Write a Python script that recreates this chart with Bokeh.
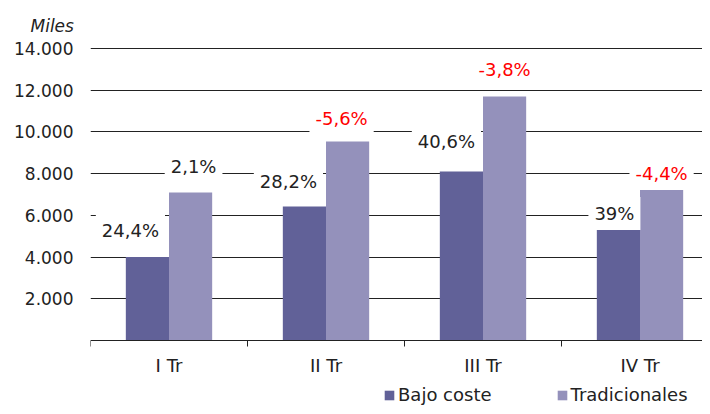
from bokeh.plotting import figure
from bokeh.models import (FixedTicker, Label, Legend, LegendItem, ColumnDataSource, Title)
from bokeh.embed import file_html
from bokeh.resources import INLINE

# ---- data ----
quarters = ["I Tr", "II Tr", "III Tr", "IV Tr"]
bajo_coste = [4000, 6430, 8100, 5470]
tradicionales = [7100, 9540, 11700, 7530]
bajo_labels = ["24,4%", "28,2%", "40,6%", "39%"]
trad_labels = ["2,1%", "-5,6%", "-3,8%", "-4,4%"]
trad_label_colors = ["#222222", "#FF0000", "#FF0000", "#FF0000"]
y_ticks = [2000, 4000, 6000, 8000, 10000, 12000, 14000]
y_tick_labels = ["2.000", "4.000", "6.000", "8.000", "10.000", "12.000", "14.000"]

# ---- style ----
C_BAJO = "#616198"
C_TRAD = "#9491BB"
FONT = "DejaVu Sans"
FS = "17px"
FS_LAB = "18px"
BAR_W = 0.275
CAT_PX = 157.0
# label pixel offsets (dx from bar centre, dy above bar top)
bajo_off = [(-17, 27), (-16, 25), (-15, 30), (-4, 13)]
trad_off = [(3, 26), (-6, 23), (0, 27), (0, 10)]

W, H = 702, 406
ML, MR, MT, MB = 90, 0, 47, 0
Y_TOP_PX, Y0_PX = 48, 340          # pixel rows of 14.000 and 0
frame_w = W - ML - MR
px_per_unit = (Y0_PX - Y_TOP_PX) / 14000.0
y_max = 14000 + (Y_TOP_PX - MT) / px_per_unit
y_min = -(H - MB - Y0_PX) / px_per_unit

p = figure(width=W, height=H, output_backend="svg", toolbar_location=None,
           x_range=(0, frame_w / CAT_PX), y_range=(y_min, y_max),
           min_border_left=ML, min_border_right=MR, min_border_top=MT,
           min_border_bottom=MB)
p.outline_line_color = None
p.background_fill_color = "white"
p.border_fill_color = "white"

xc = [i + 0.5 for i in range(len(quarters))]
src = ColumnDataSource(dict(
    xb=[x - BAR_W / 2 for x in xc], xt=[x + BAR_W / 2 for x in xc],
    bajo=bajo_coste, trad=tradicionales))
rb = p.vbar(x="xb", top="bajo", bottom=0, width=BAR_W, source=src,
            fill_color=C_BAJO, line_color=None)
rt = p.vbar(x="xt", top="trad", bottom=0, width=BAR_W, source=src,
            fill_color=C_TRAD, line_color=None)

# grid
p.xgrid.grid_line_color = None
p.ygrid.ticker = FixedTicker(ticks=y_ticks)
p.ygrid.grid_line_color = "#222222"
p.ygrid.grid_line_width = 1
p.ygrid.level = "underlay"

# y axis
ya = p.yaxis[0]
ya.ticker = FixedTicker(ticks=y_ticks)
ya.major_label_overrides = {t: l for t, l in zip(y_ticks, y_tick_labels)}
ya.axis_line_color = None
ya.major_tick_line_color = None
ya.minor_tick_line_color = None
ya.major_tick_out = 0
ya.major_tick_in = 0
ya.major_label_standoff = 17
ya.major_label_text_font = FONT
ya.major_label_text_font_size = FS
ya.major_label_text_color = "#222222"

# x axis, drawn at value 0
xa = p.xaxis[0]
xa.fixed_location = 0
xa.ticker = FixedTicker(ticks=xc, minor_ticks=[0, 1, 2, 3])
xa.major_label_overrides = {x: q for x, q in zip(xc, quarters)}
xa.axis_line_color = "#222222"
xa.major_tick_line_color = None
xa.major_tick_out = 0
xa.major_tick_in = 0
xa.minor_tick_line_color = "#222222"
xa.minor_tick_out = 6
xa.minor_tick_in = 0
xa.major_label_standoff = 8
xa.major_label_text_font = FONT
xa.major_label_text_font_size = FS_LAB
xa.major_label_text_color = "#222222"

# value labels
def add_labels(xs, vals, texts, offs, colors):
    for x, v, t, (dx, dy), c in zip(xs, vals, texts, offs, colors):
        p.add_layout(Label(x=x, y=v, x_offset=dx, y_offset=dy, text=t,
                           text_align="center", text_baseline="middle",
                           text_font=FONT, text_font_size=FS_LAB,
                           text_color=c, background_fill_color="white",
                           padding=6))

add_labels(src.data["xb"], bajo_coste, bajo_labels, bajo_off,
           ["#222222"] * 4)
add_labels(src.data["xt"], tradicionales, trad_labels, trad_off,
           trad_label_colors)

# "Miles" unit label (above the top-left of the frame)
p.add_layout(Title(text="Miles", align="left", offset=-60, standoff=24,
                   text_font=FONT, text_font_size="17px",
                   text_font_style="italic", text_color="#222222"), "above")

legend = Legend(items=[LegendItem(label="Bajo coste", renderers=[rb]),
                       LegendItem(label="Tradicionales", renderers=[rt])],
                orientation="horizontal", location=(293, 1),
                glyph_width=12, glyph_height=12, label_standoff=3,
                spacing=64, padding=0, margin=0,
                label_text_font=FONT, label_text_font_size=FS_LAB,
                label_text_color="#222222", border_line_color=None,
                background_fill_alpha=0)
p.add_layout(legend, "center")

open("out.html", "w").write(file_html(p, INLINE))
